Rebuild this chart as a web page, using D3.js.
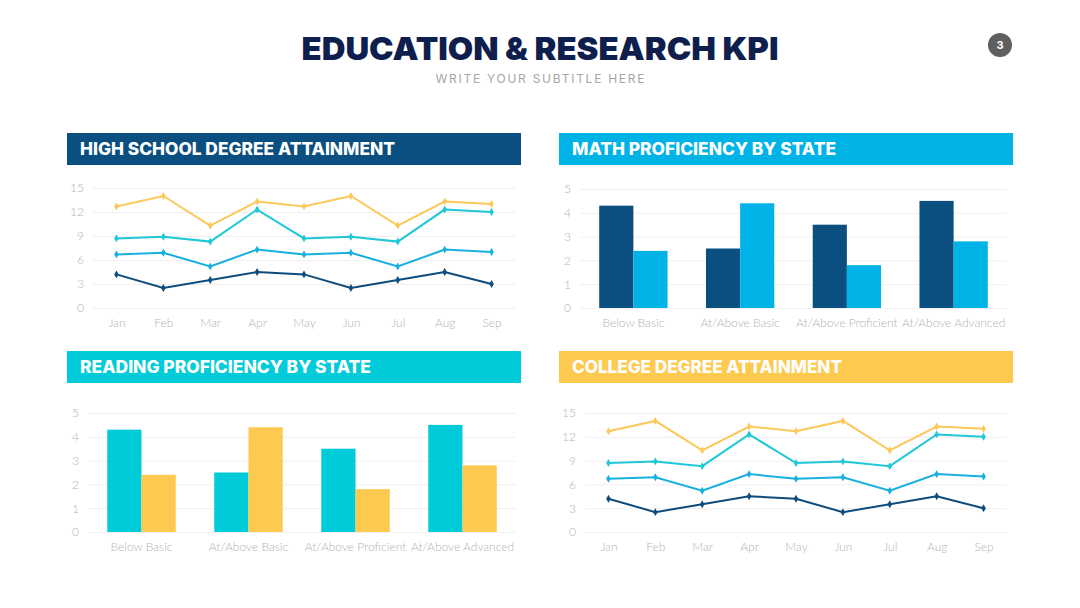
<!DOCTYPE html>
<html>
<head>
<meta charset="utf-8">
<script src="https://cdn.jsdelivr.net/npm/d3@7"></script>
<style>
  body { margin: 0; background: #fff; }
  svg { display: block; }
  .tick text { font-family: Lato, "Open Sans", sans-serif; font-weight: 300; fill: #b3b3b3; font-size: 12px; }
</style>
</head>
<body>
<div id="chart"></div>
<script>
// ---- data ----
const months = ["Jan", "Feb", "Mar", "Apr", "May", "Jun", "Jul", "Aug", "Sep"];
const lineYellow = [12.7, 14, 10.3, 13.3, 12.7, 14, 10.3, 13.3, 13];
const lineCyan = [8.7, 8.9, 8.3, 12.3, 8.7, 8.9, 8.3, 12.3, 12];
const lineBlue = [6.7, 6.9, 5.2, 7.3, 6.7, 6.9, 5.2, 7.3, 7];
const lineNavy = [4.2, 2.5, 3.5, 4.5, 4.2, 2.5, 3.5, 4.5, 3];
const lineTicks = [0, 3, 6, 9, 12, 15];

const levels = ["Below Basic", "At/Above Basic", "At/Above Proficient", "At/Above Advanced"];
const seriesA = [4.3, 2.5, 3.5, 4.5];
const seriesB = [2.4, 4.4, 1.8, 2.8];
const barTicks = [0, 1, 2, 3, 4, 5];

// colors
const navy = "#0b4f80", sky = "#00b3e7", cyan = "#00ccd9", yellow = "#fdc94f";

const W = 1080, H = 608;
const svg = d3.select("#chart").append("svg")
    .attr("width", W).attr("height", H);

// title + subtitle
svg.append("text")
    .attr("x", 540).attr("y", 60)
    .attr("text-anchor", "middle")
    .attr("textLength", 477).attr("lengthAdjust", "spacingAndGlyphs")
    .style("font-family", "Inter, sans-serif").style("font-weight", 900)
    .style("font-size", "32px").style("fill", "#0e1f4d")
    .text("EDUCATION & RESEARCH KPI");

svg.append("text")
    .attr("x", 540).attr("y", 83)
    .attr("text-anchor", "middle")
    .attr("textLength", 209).attr("lengthAdjust", "spacing")
    .style("font-family", "Inter, sans-serif").style("font-weight", 400)
    .style("font-size", "12px").style("fill", "#a6a6a6")
    .text("WRITE YOUR SUBTITLE HERE");

// page number
svg.append("circle").attr("cx", 1000).attr("cy", 45).attr("r", 12).attr("fill", "#5f5f5f");
svg.append("text").attr("x", 1000).attr("y", 49)
    .attr("text-anchor", "middle")
    .style("font-family", "Inter, sans-serif").style("font-weight", 700)
    .style("font-size", "11px").style("fill", "#fff")
    .text("3");

// panel headers
function header(x, y, color, label, len) {
    svg.append("rect").attr("x", x).attr("y", y).attr("width", 454).attr("height", 32).attr("fill", color);
    svg.append("text")
        .attr("x", x + 13).attr("y", y + 22)
        .attr("textLength", len).attr("lengthAdjust", "spacingAndGlyphs")
        .style("font-family", "Inter, sans-serif").style("font-weight", 800)
        .style("font-size", "17px").style("fill", "#fff")
        .text(label);
}

header(67, 133, navy, "HIGH SCHOOL DEGREE ATTAINMENT", 315);
header(559, 133, sky, "MATH PROFICIENCY BY STATE", 264);
header(67, 351, cyan, "READING PROFICIENCY BY STATE", 291);
header(559, 351, yellow, "COLLEGE DEGREE ATTAINMENT", 270);

function yAxisGrid(g, y, ticks, x0, x1) {
    g.append("g")
        .attr("transform", `translate(${x0},0)`)
        .call(d3.axisLeft(y).tickValues(ticks).tickFormat(d3.format("d")).tickSize(-(x1 - x0)).tickPadding(9))
        .call(a => a.select(".domain").remove())
        .call(a => a.selectAll(".tick line").attr("stroke", "#efefef"));
}

function lineChart(x0, x1, yTop, yBot) {
    const g = svg.append("g");
    const x = d3.scalePoint().domain(months).range([x0, x1]).padding(0.5);
    const y = d3.scaleLinear().domain([0, 15]).range([yBot, yTop]);

    yAxisGrid(g, y, lineTicks, x0, x1);

    g.append("g")
        .attr("transform", `translate(0,${yBot})`)
        .call(d3.axisBottom(x).tickSize(0).tickPadding(10))
        .call(a => a.select(".domain").remove());

    const series = [
        { vals: lineYellow, color: "#fbc85a" },
        { vals: lineCyan, color: "#1ec8d7" },
        { vals: lineBlue, color: "#17b0df" },
        { vals: lineNavy, color: "#0d4c7c" }
    ];
    const line = d3.line().x((d, i) => x(months[i])).y(d => y(d));
    const sym = d3.symbol().type(d3.symbolDiamond).size(18);

    series.forEach(s => {
        g.append("path")
            .attr("d", line(s.vals))
            .attr("fill", "none")
            .attr("stroke", s.color)
            .attr("stroke-width", 2);
        g.selectAll(null)
            .data(s.vals)
            .enter()
            .append("path")
            .attr("d", sym)
            .attr("transform", (d, i) => `translate(${x(months[i])},${y(d)})`)
            .attr("fill", s.color);
    });
}

function barChart(x0, x1, yTop, yBot, c1, c2) {
    const g = svg.append("g");
    const x = d3.scaleBand().domain(levels).range([x0, x1]).paddingInner(0.36).paddingOuter(0.18);
    const xs = d3.scaleBand().domain(["a", "b"]).range([0, x.bandwidth()]);
    const y = d3.scaleLinear().domain([0, 5]).range([yBot, yTop]);

    yAxisGrid(g, y, barTicks, x0, x1);

    g.append("g")
        .attr("transform", `translate(0,${yBot})`)
        .call(d3.axisBottom(x).tickSize(0).tickPadding(10))
        .call(a => a.select(".domain").remove());

    g.selectAll(".bar-a")
        .data(seriesA)
        .enter()
        .append("rect")
        .attr("class", "bar-a")
        .attr("x", (d, i) => x(levels[i]) + xs("a"))
        .attr("y", d => y(d))
        .attr("width", xs.bandwidth())
        .attr("height", d => yBot - y(d))
        .attr("fill", c1);

    g.selectAll(".bar-b")
        .data(seriesB)
        .enter()
        .append("rect")
        .attr("class", "bar-b")
        .attr("x", (d, i) => x(levels[i]) + xs("b"))
        .attr("y", d => y(d))
        .attr("width", xs.bandwidth())
        .attr("height", d => yBot - y(d))
        .attr("fill", c2);
}

lineChart(93, 515, 188, 308);
barChart(580, 1007, 189, 308, navy, sky);
barChart(88, 516, 413, 532, cyan, yellow);
lineChart(585, 1007, 413, 532);
</script>
</body>
</html>
